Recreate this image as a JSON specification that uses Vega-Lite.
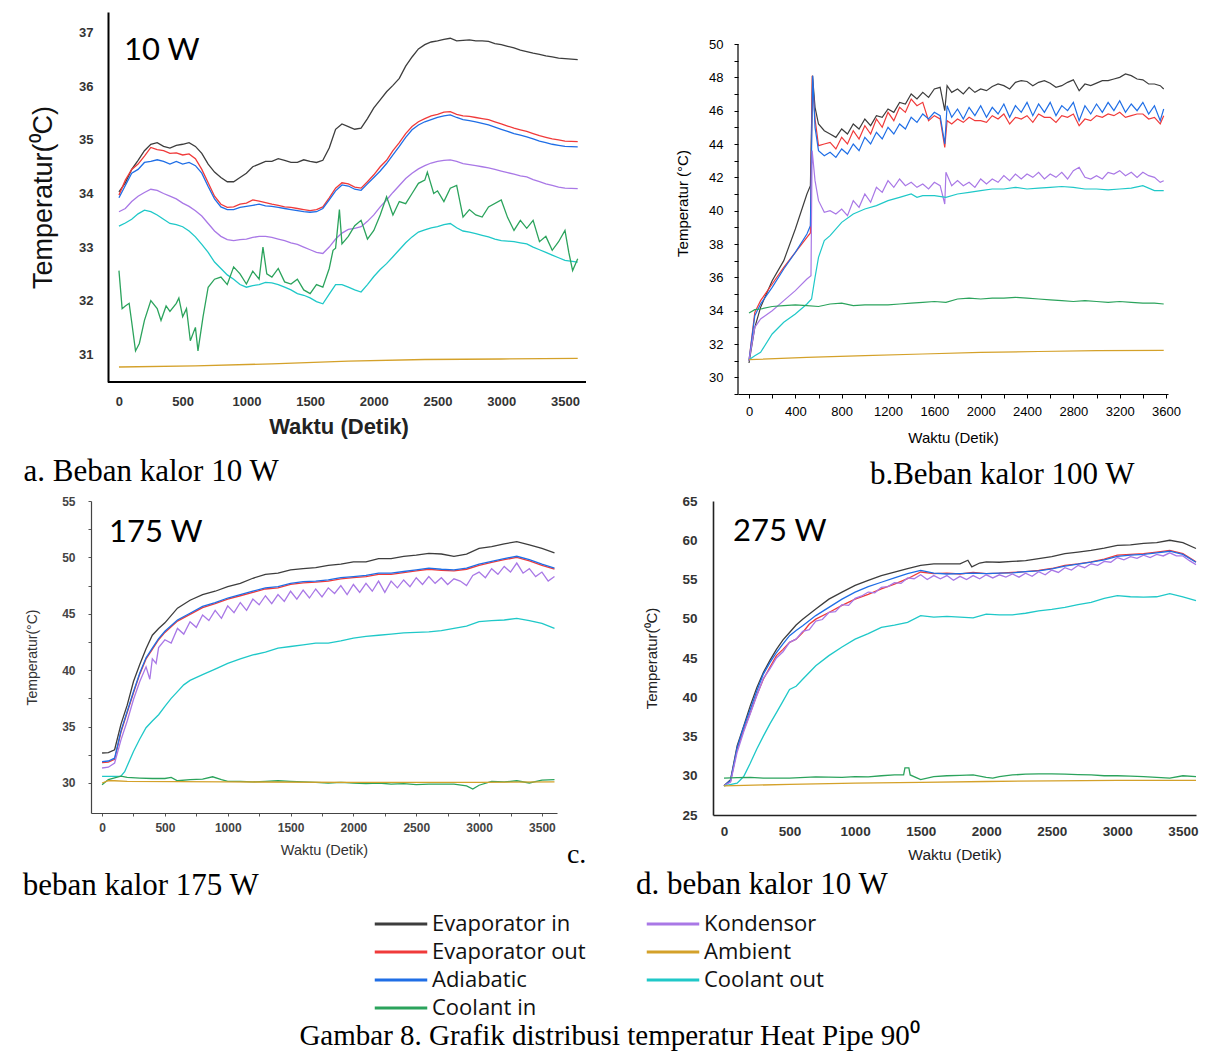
{
"$schema": "https://vega.github.io/schema/vega-lite/v6.json",
"background": "white",
"padding": {"left": 22, "top": 12, "right": 10, "bottom": 0},
"datasets": {
"names": [{"k":"ei","s":"Evaporator in"},{"k":"eo","s":"Evaporator out"},{"k":"ad","s":"Adiabatic"},{"k":"ci","s":"Coolant in"},{"k":"ko","s":"Kondensor"},{"k":"am","s":"Ambient"},{"k":"co","s":"Coolant out"}],
"a": [
{"t":0,"ei":34.03,"eo":33.97,"ad":33.92,"ko":33.66,"co":33.39,"ci":32.56,"am":30.76},
{"t":25,"ci":31.85},{"t":50,"ei":34.2,"eo":34.25,"ad":34.15,"ko":33.72,"co":33.45,"ci":31.9},{"t":80,"ci":31.95},
{"t":100,"ei":34.45,"eo":34.45,"ad":34.38,"ko":33.85,"co":33.52,"ci":31.6},
{"t":130,"ci":31.06},{"t":150,"ei":34.62,"eo":34.55,"ad":34.45,"ko":33.95,"co":33.62},{"t":160,"ci":31.2},
{"t":200,"ei":34.8,"eo":34.7,"ad":34.58,"ko":34.02,"co":33.69,"ci":31.63},
{"t":250,"ei":34.92,"eo":34.86,"ad":34.6,"ko":34.08,"co":33.66,"ci":32.0},
{"t":300,"ei":34.95,"eo":34.82,"ad":34.63,"ko":34.06,"co":33.6,"ci":31.85},
{"t":330,"ci":31.63},{"t":350,"ei":34.88,"eo":34.8,"ad":34.6,"ko":34.0,"co":33.52},{"t":370,"ci":31.9},
{"t":400,"ei":34.85,"eo":34.75,"ad":34.55,"ko":33.95,"co":33.44,"ci":31.8},
{"t":450,"ei":34.9,"eo":34.76,"ad":34.6,"ko":33.9,"co":33.42,"ci":31.95},{"t":470,"ci":32.05},
{"t":500,"ei":34.92,"eo":34.72,"ad":34.55,"ko":33.82,"co":33.38,"ci":31.7},
{"t":530,"ci":31.85},{"t":550,"ei":34.95,"eo":34.74,"ad":34.58,"ko":33.76,"co":33.3},{"t":560,"ci":31.25},
{"t":600,"ei":34.88,"eo":34.65,"ad":34.52,"ko":33.68,"co":33.19,"ci":31.5,"am":30.78},
{"t":620,"ci":31.06},{"t":650,"ei":34.75,"eo":34.45,"ad":34.38,"ko":33.58,"co":33.05},{"t":660,"ci":31.7},
{"t":700,"ei":34.55,"eo":34.2,"ad":34.13,"ko":33.44,"co":32.9,"ci":32.25},
{"t":750,"ei":34.4,"eo":33.95,"ad":33.9,"ko":33.3,"co":32.72,"ci":32.4},
{"t":800,"ei":34.3,"eo":33.8,"ad":33.75,"ko":33.2,"co":32.6,"ci":32.44},
{"t":850,"ei":34.22,"eo":33.74,"ad":33.7,"ko":33.14,"co":32.48,"ci":32.3},
{"t":900,"ei":34.22,"eo":33.75,"ad":33.7,"ko":33.12,"co":32.4,"ci":32.63},
{"t":950,"ei":34.3,"eo":33.8,"ad":33.74,"ko":33.14,"co":32.3,"ci":32.5},
{"t":1000,"ei":34.38,"eo":33.82,"ad":33.76,"ko":33.15,"co":32.25,"ci":32.31},
{"t":1050,"ei":34.5,"eo":33.88,"ad":33.78,"ko":33.18,"co":32.28,"ci":32.55},
{"t":1100,"ei":34.55,"eo":33.86,"ad":33.8,"ko":33.2,"co":32.3,"ci":32.4},
{"t":1130,"ci":33.0},{"t":1150,"ei":34.6,"eo":33.83,"ad":33.77,"ko":33.2,"co":32.34},{"t":1160,"ci":32.5},
{"t":1200,"ei":34.6,"eo":33.8,"ad":33.76,"ko":33.18,"co":32.33,"ci":32.44,"am":30.82},
{"t":1250,"ei":34.65,"eo":33.78,"ad":33.74,"ko":33.15,"co":32.3,"ci":32.6},
{"t":1300,"ei":34.62,"eo":33.75,"ad":33.72,"ko":33.12,"co":32.25,"ci":32.35},
{"t":1350,"ei":34.58,"eo":33.74,"ad":33.7,"ko":33.08,"co":32.2,"ci":32.31},
{"t":1400,"ei":34.58,"eo":33.72,"ad":33.68,"ko":33.05,"co":32.13,"ci":32.4},
{"t":1450,"ei":34.63,"eo":33.7,"ad":33.66,"ko":33.0,"co":32.1,"ci":32.2},
{"t":1500,"ei":34.6,"eo":33.68,"ad":33.65,"ko":32.95,"co":32.05,"ci":32.13},
{"t":1550,"ei":34.58,"eo":33.7,"ad":33.66,"ko":32.9,"co":31.98,"ci":32.3},
{"t":1600,"ei":34.62,"eo":33.75,"ad":33.72,"ko":32.88,"co":31.94,"ci":32.25},
{"t":1650,"ei":34.85,"eo":33.92,"ad":33.88,"ko":33.0,"co":32.12,"ci":32.6},{"t":1680,"ci":32.94},
{"t":1700,"ei":35.2,"eo":34.1,"ad":34.05,"ko":33.15,"co":32.3,"ci":32.98},
{"t":1730,"ci":33.7},
{"t":1750,"ei":35.3,"eo":34.2,"ad":34.16,"ko":33.26,"co":32.3,"ci":33.06},
{"t":1800,"ei":35.25,"eo":34.18,"ad":34.14,"ko":33.33,"co":32.25,"ci":33.2,"am":30.87},
{"t":1850,"ei":35.2,"eo":34.12,"ad":34.08,"ko":33.35,"co":32.2,"ci":33.4},
{"t":1900,"ei":35.22,"eo":34.1,"ad":34.06,"ko":33.38,"co":32.16,"ci":33.5},
{"t":1950,"ei":35.4,"eo":34.22,"ad":34.18,"ko":33.48,"co":32.3,"ci":33.15},
{"t":2000,"ei":35.6,"eo":34.35,"ad":34.3,"ko":33.6,"co":32.45,"ci":33.31},
{"t":2050,"ei":35.75,"eo":34.5,"ad":34.42,"ko":33.75,"co":32.58,"ci":33.6},
{"t":2100,"ei":35.9,"eo":34.62,"ad":34.56,"ko":33.88,"co":32.69,"ci":33.94},
{"t":2150,"ei":36.02,"eo":34.8,"ad":34.72,"ko":34.02,"co":32.82,"ci":33.6},
{"t":2200,"ei":36.15,"eo":34.95,"ad":34.88,"ko":34.15,"co":32.95,"ci":33.85},
{"t":2250,"ei":36.38,"eo":35.12,"ad":35.05,"ko":34.28,"co":33.08,"ci":33.81},
{"t":2300,"ei":36.55,"eo":35.25,"ad":35.19,"ko":34.38,"co":33.19,"ci":34.0},
{"t":2350,"ei":36.7,"eo":35.34,"ad":35.28,"ko":34.46,"co":33.28,"ci":34.19},
{"t":2400,"ei":36.78,"eo":35.4,"ad":35.34,"ko":34.52,"co":33.32,"ci":34.25,"am":30.9},
{"t":2420,"ci":34.4},{"t":2450,"ei":36.83,"eo":35.45,"ad":35.38,"ko":34.57,"co":33.36},{"t":2470,"ci":34.0},
{"t":2500,"ei":36.85,"eo":35.48,"ad":35.42,"ko":34.6,"co":33.38,"ci":34.05},
{"t":2550,"ei":36.88,"eo":35.52,"ad":35.45,"ko":34.62,"co":33.42,"ci":33.85},
{"t":2600,"ei":36.9,"eo":35.53,"ad":35.47,"ko":34.63,"co":33.44,"ci":34.1},
{"t":2650,"ei":36.85,"eo":35.48,"ad":35.42,"ko":34.6,"co":33.36,"ci":34.15},
{"t":2700,"ei":36.86,"eo":35.45,"ad":35.38,"ko":34.56,"co":33.3,"ci":33.56},
{"t":2750,"ei":36.87,"eo":35.44,"ad":35.36,"ko":34.54,"co":33.28,"ci":33.7},
{"t":2800,"ei":36.85,"eo":35.42,"ad":35.34,"ko":34.52,"co":33.25,"ci":33.6},
{"t":2850,"ei":36.85,"eo":35.4,"ad":35.31,"ko":34.5,"co":33.22,"ci":33.56},
{"t":2900,"ei":36.84,"eo":35.38,"ad":35.28,"ko":34.48,"co":33.19,"ci":33.75},
{"t":2950,"ei":36.8,"eo":35.34,"ad":35.24,"ko":34.45,"co":33.15},
{"t":3000,"ei":36.78,"eo":35.3,"ad":35.2,"ko":34.42,"co":33.12,"ci":33.88,"am":30.91},
{"t":3050,"ei":36.75,"eo":35.26,"ad":35.16,"ko":34.39,"co":33.11,"ci":33.55},
{"t":3100,"ei":36.72,"eo":35.22,"ad":35.12,"ko":34.36,"co":33.1,"ci":33.31},
{"t":3150,"ei":36.68,"eo":35.19,"ad":35.09,"ko":34.33,"co":33.08,"ci":33.5},
{"t":3200,"ei":36.65,"eo":35.16,"ad":35.06,"ko":34.31,"co":33.06,"ci":33.35},
{"t":3250,"ei":36.62,"eo":35.12,"ad":35.02,"ko":34.26,"co":33.0,"ci":33.5},
{"t":3300,"ei":36.6,"eo":35.08,"ad":34.98,"ko":34.22,"co":32.95,"ci":33.1},
{"t":3350,"ei":36.57,"eo":35.05,"ad":34.95,"ko":34.18,"co":32.9,"ci":33.2},
{"t":3400,"ei":36.55,"eo":35.02,"ad":34.92,"ko":34.15,"co":32.85,"ci":32.94},
{"t":3450,"ei":36.53,"eo":35.0,"ad":34.9,"ko":34.12,"co":32.8,"ci":33.1},
{"t":3500,"ei":36.52,"eo":34.98,"ad":34.88,"ko":34.1,"co":32.75,"ci":33.31},
{"t":3530,"ci":32.9},{"t":3560,"ci":32.56},
{"t":3600,"ei":36.5,"eo":34.97,"ad":34.87,"ko":34.09,"co":32.72,"ci":32.78,"am":30.92}
],
"b": [
{"t":0,"ei":30.86,"eo":31.0,"ad":31.0,"ko":31.0,"co":31.06,"ci":33.86,"am":31.06},
{"t":50,"ei":33.0,"eo":33.9,"ad":33.7,"ko":33.0,"co":31.3,"ci":34.06},
{"t":100,"ei":34.2,"eo":34.6,"ad":34.4,"ko":33.5,"co":31.5,"ci":34.1},
{"t":200,"ei":35.8,"eo":35.6,"ad":35.4,"ko":34.0,"co":32.6,"ci":34.25},
{"t":300,"ei":37.0,"eo":36.6,"ad":36.5,"ko":34.6,"co":33.3,"ci":34.3},
{"t":400,"ei":38.9,"eo":37.5,"ad":37.5,"ko":35.2,"co":33.8,"ci":34.35},
{"t":500,"ei":41.0,"eo":38.4,"ad":38.6,"ko":35.9,"co":34.4,"ci":34.3,"am":31.2},
{"t":530,"ei":41.5,"eo":38.66,"ad":39.1},
{"t":535,"ko":36.1},{"t":540,"co":34.7},{"t":545,"ko":43.6},{"t":546,"eo":48.1},{"t":548,"ei":48.1},{"t":550,"ad":48.1},
{"t":570,"ei":46.2,"eo":45.5,"ad":45.0,"ko":41.8,"co":36.0},
{"t":600,"ei":45.2,"eo":43.9,"ad":43.6,"ko":40.6,"co":37.2,"ci":34.25},
{"t":650,"ei":44.8,"eo":44.0,"ad":43.3,"ko":39.9,"co":38.2},
{"t":700,"ei":44.6,"eo":44.1,"ad":43.5,"ko":40.0,"co":38.5,"ci":34.4},
{"t":750,"ei":44.4,"eo":43.7,"ad":43.2,"ko":39.8},
{"t":800,"ei":44.9,"eo":44.4,"ad":43.7,"ko":40.1,"co":39.3,"ci":34.45},
{"t":850,"ei":44.6,"eo":44.0,"ad":43.4,"ko":39.7},
{"t":900,"ei":45.2,"eo":44.8,"ad":44.0,"ko":40.6,"co":39.8,"ci":34.3},
{"t":950,"ei":44.9,"eo":44.3,"ad":43.6,"ko":40.2},
{"t":1000,"ei":45.5,"eo":45.1,"ad":44.4,"ko":41.0,"co":40.1,"ci":34.35,"am":31.3},
{"t":1050,"ei":45.1,"eo":44.6,"ad":44.0,"ko":40.5},
{"t":1100,"ei":45.7,"eo":45.5,"ad":44.7,"ko":41.4,"co":40.3,"ci":34.35},
{"t":1150,"ei":45.6,"eo":45.0,"ad":44.3,"ko":41.1},
{"t":1200,"ei":46.1,"eo":45.9,"ad":45.0,"ko":41.8,"co":40.6,"ci":34.35},
{"t":1250,"ei":45.9,"eo":45.4,"ad":44.6,"ko":41.4},
{"t":1300,"ei":46.5,"eo":46.2,"ad":45.2,"ko":41.9,"co":40.8,"ci":34.4},
{"t":1350,"ei":46.4,"eo":45.9,"ad":44.9,"ko":41.5},
{"t":1400,"ei":47.0,"eo":46.7,"ad":45.6,"ko":41.7,"co":41.0,"ci":34.45},
{"t":1450,"ei":46.7,"eo":46.3,"ad":45.3,"ko":41.4,"co":40.8},
{"t":1500,"ei":47.1,"eo":46.5,"ad":45.8,"ko":41.6,"co":40.9,"ci":34.5,"am":31.4},
{"t":1550,"ei":46.8,"eo":45.4,"ad":45.5,"ko":41.3},
{"t":1600,"ei":47.3,"eo":45.7,"ad":45.9,"ko":41.7,"co":40.9,"ci":34.55},
{"t":1650,"ei":47.4,"eo":45.5,"ad":45.7,"ko":41.5},
{"t":1690,"ei":46.0,"eo":43.8,"ad":44.0,"ko":40.4},
{"t":1700,"ko":42.3,"co":40.8,"ci":34.5},
{"t":1710,"ei":47.5,"eo":45.4,"ad":46.3},
{"t":1750,"ei":47.1,"eo":45.2,"ad":45.6,"ko":41.5},
{"t":1800,"ei":47.3,"eo":45.5,"ad":46.1,"ko":41.8,"co":41.0,"ci":34.7},
{"t":1850,"ei":47.0,"eo":45.3,"ad":45.5,"ko":41.5},
{"t":1900,"ei":47.4,"eo":45.6,"ad":46.2,"ko":41.7,"co":41.1,"ci":34.75},
{"t":1950,"ei":47.1,"eo":45.4,"ad":45.7,"ko":41.4},
{"t":2000,"ei":47.3,"eo":45.4,"ad":46.3,"ko":41.9,"co":41.2,"ci":34.7,"am":31.5},
{"t":2050,"ei":47.2,"eo":45.3,"ad":45.6,"ko":41.6},
{"t":2100,"ei":47.45,"eo":45.7,"ad":46.2,"ko":41.9,"co":41.3,"ci":34.75},
{"t":2150,"ei":47.6,"eo":45.5,"ad":45.8,"ko":41.7},
{"t":2200,"ei":47.5,"eo":45.8,"ad":46.4,"ko":42.1,"co":41.3,"ci":34.75},
{"t":2250,"ei":47.3,"eo":45.2,"ad":45.6,"ko":41.8},
{"t":2300,"ei":47.7,"eo":45.6,"ad":46.3,"ko":42.2,"co":41.4,"ci":34.8},
{"t":2350,"ei":47.8,"eo":45.5,"ad":45.9,"ko":41.9},
{"t":2400,"ei":47.75,"eo":45.7,"ad":46.5,"ko":42.2,"co":41.3,"ci":34.75},
{"t":2450,"ei":47.5,"eo":45.3,"ad":45.7,"ko":42.0},
{"t":2500,"ei":47.7,"eo":45.8,"ad":46.4,"ko":42.3,"co":41.35,"ci":34.7,"am":31.55},
{"t":2550,"ei":47.8,"eo":45.6,"ad":45.9,"ko":41.9},
{"t":2600,"ei":47.65,"eo":45.6,"ad":46.5,"ko":42.2,"co":41.4,"ci":34.65},
{"t":2650,"ei":47.4,"eo":45.3,"ad":45.7,"ko":42.0},
{"t":2700,"ei":47.5,"eo":45.7,"ad":46.3,"ko":42.3,"co":41.45,"ci":34.6},
{"t":2750,"ei":47.7,"eo":45.6,"ad":46.0,"ko":41.9},
{"t":2800,"ei":47.85,"eo":45.8,"ad":46.5,"ko":42.4,"co":41.4,"ci":34.55},
{"t":2850,"ei":47.2,"eo":45.1,"ad":45.4,"ko":42.6},
{"t":2900,"ei":47.6,"eo":45.5,"ad":46.3,"ko":42.0,"co":41.3,"ci":34.6},
{"t":2950,"ei":47.5,"eo":45.4,"ad":45.8,"ko":41.9},
{"t":3000,"ei":47.65,"eo":45.7,"ad":46.4,"ko":42.1,"co":41.3,"ci":34.55,"am":31.6},
{"t":3050,"ei":47.8,"eo":45.6,"ad":45.9,"ko":41.9},
{"t":3100,"ei":47.8,"eo":45.8,"ad":46.5,"ko":42.3,"co":41.25,"ci":34.5},
{"t":3150,"ei":47.9,"eo":45.7,"ad":46.0,"ko":42.2},
{"t":3200,"ei":48.0,"eo":45.9,"ad":46.6,"ko":42.4,"co":41.3,"ci":34.55},
{"t":3250,"ei":48.2,"eo":45.6,"ad":45.9,"ko":42.1},
{"t":3300,"ei":48.1,"eo":45.7,"ad":46.4,"ko":42.3,"co":41.35,"ci":34.5},
{"t":3350,"ei":47.9,"eo":45.8,"ad":46.0,"ko":42.0},
{"t":3400,"ei":47.85,"eo":45.8,"ad":46.5,"ko":42.3,"co":41.5,"ci":34.45},
{"t":3450,"ei":47.6,"eo":45.5,"ad":45.8,"ko":42.1},
{"t":3500,"ei":47.6,"eo":45.6,"ad":46.3,"ko":42.0,"co":41.2,"ci":34.45},
{"t":3550,"ei":47.5,"eo":45.2,"ad":45.4,"ko":41.7},
{"t":3580,"ei":47.3,"eo":45.7,"ad":46.1,"ko":41.8,"co":41.2,"ci":34.4,"am":31.62}
],
"c": [
{"t":0,"ei":32.66,"eo":31.8,"ad":31.9,"ko":31.33,"co":30.59,"ci":29.85,"am":30.0},
{"t":50,"ei":32.7,"eo":31.85,"ad":31.95,"ko":31.4,"ci":30.3,"am":30.2},
{"t":100,"ei":32.95,"eo":32.1,"ad":32.2,"ko":31.77,"co":30.59,"ci":30.45,"am":30.2},
{"t":150,"ei":35.2,"eo":34.5,"ad":34.6,"ko":33.8,"co":30.6,"ci":30.6},
{"t":180,"co":31.0},
{"t":200,"ei":36.9,"eo":36.25,"ad":36.35,"ko":35.5,"ci":30.5,"am":30.15},
{"t":250,"ei":39.0,"eo":38.0,"ad":38.1,"ko":37.4,"co":32.8},
{"t":300,"ei":40.5,"eo":39.65,"ad":39.75,"ko":39.0,"co":33.9,"ci":30.44},
{"t":350,"ei":41.9,"eo":41.0,"ad":41.1,"ko":40.3,"co":34.9},
{"t":380,"ko":39.2},
{"t":400,"ei":43.1,"eo":41.85,"ad":41.95,"ko":41.0,"co":35.5,"ci":30.4},
{"t":430,"ko":40.6},
{"t":450,"ei":43.7,"eo":42.7,"ad":42.8,"ko":42.0,"co":36.05},
{"t":500,"ei":44.2,"eo":43.35,"ad":43.45,"ko":42.7,"co":36.8,"ci":30.4},
{"t":550,"ko":42.4,"co":37.5,"ci":30.5},
{"t":600,"ei":45.5,"eo":44.35,"ad":44.45,"ko":43.7,"co":38.1,"ci":30.2},
{"t":650,"ko":43.2,"co":38.7},
{"t":700,"ei":46.2,"eo":44.95,"ad":45.05,"ko":44.3,"co":39.1,"ci":30.3},
{"t":750,"ko":43.8},
{"t":800,"ei":46.7,"eo":45.55,"ad":45.65,"ko":44.9,"co":39.6,"ci":30.35},
{"t":850,"ko":44.4},
{"t":880,"ci":30.55},
{"t":900,"ei":47.0,"eo":45.9,"ad":46.0,"ko":45.3,"co":40.1},
{"t":950,"ko":44.6,"ci":30.3},
{"t":1000,"ei":47.4,"eo":46.3,"ad":46.4,"ko":45.7,"co":40.6,"ci":30.15,"am":30.1},
{"t":1050,"ko":45.1},
{"t":1100,"ei":47.7,"eo":46.6,"ad":46.7,"ko":46.0,"co":41.0,"ci":30.15},
{"t":1150,"ko":45.3},
{"t":1200,"ei":48.15,"eo":46.9,"ad":47.0,"ko":46.3,"co":41.35,"ci":30.1},
{"t":1250,"ko":45.8},
{"t":1300,"ei":48.5,"eo":47.2,"ad":47.3,"ko":46.6,"co":41.6,"ci":30.15},
{"t":1350,"ko":45.9},
{"t":1400,"ei":48.6,"eo":47.3,"ad":47.4,"ko":46.7,"co":41.95,"ci":30.2},
{"t":1450,"ko":46.1},
{"t":1500,"ei":48.9,"eo":47.6,"ad":47.7,"ko":47.0,"co":42.1,"ci":30.15},
{"t":1550,"ko":46.3},
{"t":1600,"ei":49.0,"eo":47.75,"ad":47.85,"ko":47.1,"co":42.25,"ci":30.1},
{"t":1650,"ko":46.4},
{"t":1700,"ei":49.1,"eo":47.8,"ad":47.9,"ko":47.2,"co":42.4,"ci":30.05},
{"t":1750,"ko":46.5},
{"t":1800,"ei":49.3,"eo":47.9,"ad":48.0,"ko":47.3,"co":42.4,"ci":30.0},
{"t":1850,"ko":46.8},
{"t":1900,"ei":49.4,"eo":48.1,"ad":48.2,"ko":47.5,"co":42.6,"ci":30.05},
{"t":1950,"ko":46.7},
{"t":2000,"ei":49.6,"eo":48.2,"ad":48.3,"ko":47.6,"co":42.85,"ci":30.0,"am":30.05},
{"t":2050,"ko":46.9},
{"t":2100,"ei":49.6,"eo":48.3,"ad":48.4,"ko":47.7,"co":43.0,"ci":29.95},
{"t":2150,"ko":47.0},
{"t":2200,"ei":49.9,"eo":48.5,"ad":48.6,"ko":47.9,"co":43.1,"ci":30.0},
{"t":2250,"ko":46.9},
{"t":2300,"ei":49.9,"eo":48.5,"ad":48.6,"ko":47.9,"co":43.2,"ci":29.9},
{"t":2350,"ko":47.3},
{"t":2400,"ei":50.1,"eo":48.65,"ad":48.75,"ko":48.0,"co":43.3,"ci":29.95},
{"t":2450,"ko":47.4},
{"t":2500,"ei":50.2,"eo":48.8,"ad":48.9,"ko":48.2,"co":43.35,"ci":29.85},
{"t":2550,"ko":47.6},
{"t":2600,"ei":50.35,"eo":48.95,"ad":49.05,"ko":48.3,"co":43.4,"ci":29.9},
{"t":2650,"ko":47.7},
{"t":2700,"ei":50.3,"eo":48.85,"ad":48.95,"ko":48.2,"co":43.5,"ci":29.9},
{"t":2750,"ko":47.6},
{"t":2800,"ei":50.1,"eo":48.8,"ad":48.9,"ko":48.1,"co":43.7,"ci":29.9},
{"t":2850,"ko":47.9},
{"t":2900,"ei":50.3,"eo":48.95,"ad":49.05,"ko":47.5,"co":43.9,"ci":29.75},
{"t":2950,"ko":48.4,"ci":29.47},
{"t":3000,"ei":50.8,"eo":49.3,"ad":49.4,"ko":48.7,"co":44.3,"ci":29.8,"am":30.05},
{"t":3050,"ko":48.2},
{"t":3100,"ei":50.95,"eo":49.55,"ad":49.65,"ko":49.0,"co":44.4,"ci":30.15},
{"t":3150,"ko":48.5},
{"t":3200,"ei":51.2,"eo":49.8,"ad":49.9,"ko":49.2,"co":44.45,"ci":30.1},
{"t":3250,"ko":48.7},
{"t":3300,"ei":51.4,"eo":50.0,"ad":50.1,"ko":49.5,"co":44.6,"ci":30.2},
{"t":3350,"ko":48.6},
{"t":3400,"ei":51.1,"eo":49.7,"ad":49.8,"ko":49.0,"co":44.4,"ci":30.0},
{"t":3450,"ko":48.3},
{"t":3500,"ei":50.8,"eo":49.3,"ad":49.4,"ko":48.7,"co":44.15,"ci":30.25},
{"t":3550,"ko":47.9},
{"t":3600,"ei":50.4,"eo":48.95,"ad":49.05,"ko":48.3,"co":43.7,"ci":30.3,"am":30.1}
],
"d": [
{"t":0,"ei":28.72,"eo":28.72,"ad":28.72,"ko":28.72,"co":28.72,"ci":29.7,"am":28.72},
{"t":50,"ei":29.5,"eo":29.3,"ad":29.4,"ko":29.2},
{"t":100,"ei":33.8,"eo":33.4,"ad":33.55,"ko":33.0,"co":29.05,"ci":29.75},
{"t":150,"ei":36.3,"eo":35.8,"ad":36.2,"ko":35.6,"co":29.9},
{"t":200,"ei":38.9,"eo":38.0,"ad":38.45,"ko":37.9,"co":31.6,"ci":29.8},
{"t":250,"ei":41.2,"eo":40.3,"ad":40.8,"ko":40.2,"co":33.4},
{"t":300,"ei":43.15,"eo":42.3,"ad":42.95,"ko":42.4,"co":35.05,"ci":29.7},
{"t":350,"ei":44.7,"eo":43.8,"ad":44.4,"ko":43.6,"co":36.6},
{"t":400,"ei":46.1,"eo":45.3,"ad":45.7,"ko":45.0,"co":38.05},
{"t":450,"ei":47.3,"eo":46.1,"ad":46.8,"ko":45.8,"co":39.5},
{"t":500,"ei":48.25,"eo":47.0,"ad":47.85,"ko":47.0,"co":41.0,"ci":29.7,"am":28.9},
{"t":550,"ei":49.2,"eo":47.4,"ad":48.5,"ko":47.4,"co":41.4},
{"t":600,"ei":49.95,"eo":48.25,"ad":49.1,"ko":48.4,"co":42.3},
{"t":650,"eo":49.3,"ko":48.6},
{"t":700,"ei":51.25,"eo":49.95,"ad":50.4,"ko":49.7,"co":44.0,"ci":29.85},
{"t":750,"ko":49.9},
{"t":800,"ei":52.5,"eo":50.8,"ad":51.45,"ko":50.8,"co":45.3},
{"t":850,"ko":50.9},
{"t":900,"ei":53.4,"eo":51.7,"ad":52.5,"ko":51.8,"co":46.4,"ci":29.8},
{"t":950,"ko":51.7},
{"t":1000,"ei":54.25,"eo":52.5,"ad":53.4,"ko":52.6,"co":47.4,"ci":29.9,"am":29.05},
{"t":1050,"ko":52.9},
{"t":1100,"ei":54.9,"eo":53.1,"ad":54.1,"ko":53.4,"co":48.1,"ci":29.85},
{"t":1150,"ko":53.3},
{"t":1200,"ei":55.5,"eo":53.8,"ad":54.65,"ko":54.0,"co":48.9,"ci":30.0},
{"t":1250,"ko":54.1},
{"t":1300,"ei":55.95,"eo":54.4,"ad":55.2,"ko":54.6,"co":49.2,"ci":30.1},
{"t":1350,"ko":54.5},
{"t":1370,"ci":30.1},{"t":1380,"ci":31.0},
{"t":1400,"ei":56.4,"eo":55.1,"ad":55.75,"ko":55.2,"co":49.55},
{"t":1410,"ci":31.0},{"t":1420,"ci":30.1},
{"t":1450,"ko":55.1},
{"t":1500,"ei":56.8,"eo":55.95,"ad":56.15,"ko":55.6,"co":50.4,"ci":29.5,"am":29.15},
{"t":1550,"ko":55.0},
{"t":1600,"ei":57.0,"eo":55.75,"ad":55.8,"ko":55.5,"co":50.2,"ci":29.9},
{"t":1650,"ko":55.1},
{"t":1700,"ei":57.0,"eo":55.8,"ad":55.7,"ko":55.5,"co":50.3,"ci":30.0},
{"t":1750,"ko":54.9},
{"t":1800,"ei":57.0,"eo":55.7,"ad":55.75,"ko":55.4,"co":50.2,"ci":30.05},
{"t":1850,"ko":55.0},
{"t":1860,"ei":57.45},{"t":1890,"ei":56.6},
{"t":1900,"eo":55.9,"ad":55.8,"ko":55.5,"co":50.1,"ci":30.1},
{"t":1950,"ei":57.1,"ko":55.1},
{"t":2000,"ei":57.25,"eo":55.75,"ad":55.75,"ko":55.6,"co":50.6,"ci":29.8,"am":29.27},
{"t":2050,"ko":55.2,"ci":29.7},
{"t":2100,"ei":57.2,"eo":55.8,"ad":55.8,"ko":55.6,"co":50.5,"ci":29.9},
{"t":2150,"ko":55.3},
{"t":2200,"ei":57.3,"eo":55.9,"ad":55.85,"ko":55.7,"co":50.5,"ci":30.1},
{"t":2250,"ko":55.3},
{"t":2300,"ei":57.4,"eo":56.0,"ad":56.0,"ko":55.8,"co":50.7,"ci":30.2},
{"t":2350,"ko":55.4},
{"t":2400,"ei":57.65,"eo":56.15,"ad":56.1,"ko":56.0,"co":51.0,"ci":30.25},
{"t":2450,"ko":55.6},
{"t":2500,"ei":57.9,"eo":56.4,"ad":56.35,"ko":56.2,"co":51.2,"ci":30.25,"am":29.35},
{"t":2550,"ko":55.9},
{"t":2600,"ei":58.3,"eo":56.8,"ad":56.7,"ko":56.5,"co":51.45,"ci":30.2},
{"t":2650,"ko":56.2},
{"t":2700,"ei":58.5,"eo":57.0,"ad":56.95,"ko":56.8,"co":51.8,"ci":30.15},
{"t":2750,"ko":56.5},
{"t":2800,"ei":58.7,"eo":57.25,"ad":57.2,"ko":57.0,"co":52.1,"ci":30.1},
{"t":2850,"ko":56.8},
{"t":2900,"ei":59.0,"eo":57.6,"ad":57.5,"ko":57.3,"co":52.6,"ci":30.0},
{"t":2950,"ko":57.2},
{"t":3000,"ei":59.35,"eo":58.1,"ad":57.95,"ko":57.8,"co":52.95,"ci":30.0,"am":29.4},
{"t":3050,"ko":57.5},
{"t":3100,"ei":59.4,"eo":58.2,"ad":58.1,"ko":57.9,"co":52.8,"ci":29.95},
{"t":3150,"ko":57.7},
{"t":3200,"ei":59.6,"eo":58.3,"ad":58.2,"ko":58.1,"co":52.75,"ci":29.9},
{"t":3250,"ko":57.8},
{"t":3300,"ei":59.7,"eo":58.5,"ad":58.4,"ko":58.2,"co":52.8,"ci":29.8},
{"t":3350,"ko":58.0},
{"t":3400,"ei":60.0,"eo":58.7,"ad":58.6,"ko":58.4,"co":53.2,"ci":29.7},
{"t":3450,"ko":58.0},
{"t":3500,"ei":59.7,"eo":58.3,"ad":58.2,"ko":58.0,"co":52.8,"ci":30.0},
{"t":3550,"ko":57.4},
{"t":3600,"ei":58.95,"eo":57.25,"ad":57.2,"ko":56.9,"co":52.3,"ci":29.9,"am":29.4}
]
},
"concat": [
{"concat": [
 {"width": 495, "height": 370,
  "title": {"text": "a. Beban kalor 10 W", "orient": "bottom", "anchor": "start", "font": "Liberation Serif", "fontSize": 31, "fontWeight": "normal", "color": "#000", "offset": 20, "dx": -6},
  "layer": [
   {"data": {"name": "a"},
    "transform": [{"fold": ["ei","eo","ad","ko","co","ci","am"], "as": ["k","v"]}, {"filter": "isValid(datum.v)"}, {"lookup": "k", "from": {"data": {"name": "names"}, "key": "k", "fields": ["s"]}}],
    "mark": {"type": "line", "strokeWidth": 1.3},
    "encoding": {
     "x": {"field": "t", "type": "quantitative", "title": "Waktu (Detik)", "scale": {"domain": [-219.4, 3665], "nice": false, "zero": false},
      "axis": {"values": [0,500,1000,1500,2000,2500,3000,3500], "tickCount": 100, "format": "d", "domain": false, "ticks": false, "tickSize": 0, "labelFont": "Liberation Sans", "labelFontSize": 13, "labelFontWeight": "bold", "labelColor": "#333", "labelPadding": 13, "titleFont": "Liberation Sans", "titleFontSize": 22, "titleFontWeight": "bold", "titleColor": "#222", "titlePadding": 8}},
     "y": {"field": "v", "type": "quantitative", "title": "Temperatur(⁰C)", "scale": {"domain": [30.48, 37.39], "nice": false, "zero": false},
      "axis": {"values": [31,32,33,34,35,36,37], "tickCount": 100, "format": "d", "offset": -17, "ticks": false, "tickSize": 0, "domainColor": "#000", "domainWidth": 2, "labelFont": "Liberation Sans", "labelFontSize": 13, "labelFontWeight": "bold", "labelColor": "#333", "labelPadding": 15, "titleFont": "Liberation Sans", "titleFontSize": 27, "titleFontWeight": "normal", "titleColor": "#111", "titlePadding": 21}},
     "color": {"field": "s", "type": "nominal", "scale": {"domain": ["Evaporator in","Evaporator out","Adiabatic","Coolant in","Kondensor","Ambient","Coolant out"], "range": ["#3d3d3d","#f03a3a","#1f6ee6","#2ba35c","#a978e6","#d4a12a","#1fc8c8"]},
      "legend": {"orient": "none", "legendX": 298, "legendY": 900, "columns": 2, "title": null, "symbolType": "M-2.5,0H2.5", "symbolSize": 441, "symbolStrokeWidth": 3, "labelFont": "Open Sans", "labelFontSize": 22, "labelColor": "#111", "labelLimit": 400, "labelOffset": 19, "rowPadding": 5, "columnPadding": 54}}
    }},
   {"data": {"values": [{"t": -86, "t2": 3665, "v": 30.48}]},
    "mark": {"type": "rule", "color": "#000", "strokeWidth": 2},
    "encoding": {"x": {"field": "t", "type": "quantitative", "title": "Waktu (Detik)"}, "x2": {"field": "t2"}, "y": {"field": "v", "type": "quantitative", "title": "Temperatur(⁰C)"}}},
   {"data": {"values": [{"t": 39, "v": 36.5, "txt": "10 W"}]},
    "mark": {"type": "text", "font": "Lato", "fontSize": 31, "align": "left", "baseline": "alphabetic", "color": "#000"},
    "encoding": {"x": {"field": "t", "type": "quantitative", "title": "Waktu (Detik)"}, "y": {"field": "v", "type": "quantitative", "title": "Temperatur(⁰C)"}, "text": {"field": "txt", "type": "nominal"}}}
  ]},
 {"width": 430, "height": 382,
  "title": {"text": "b.Beban kalor 100 W", "orient": "bottom", "anchor": "end", "font": "Liberation Serif", "fontSize": 31, "fontWeight": "normal", "color": "#000", "offset": 15, "dx": -46},
  "layer": [
   {"data": {"name": "b"},
    "transform": [{"fold": ["ei","eo","ad","ko","co","ci","am"], "as": ["k","v"]}, {"filter": "isValid(datum.v)"}, {"lookup": "k", "from": {"data": {"name": "names"}, "key": "k", "fields": ["s"]}}],
    "mark": {"type": "line", "strokeWidth": 1.2},
    "encoding": {
     "x": {"field": "t", "type": "quantitative", "title": "Waktu (Detik)", "scale": {"domain": [-95, 3617], "nice": false, "zero": false},
      "axis": {"values": [0,200,400,600,800,1000,1200,1400,1600,1800,2000,2200,2400,2600,2800,3000,3200,3400,3600], "tickCount": 100, "format": "d", "labelExpr": "datum.value % 400 === 0 ? datum.label : ''", "tickSize": 4, "tickColor": "#000", "domainColor": "#000", "domainWidth": 1.2, "labelFont": "Liberation Sans", "labelFontSize": 13, "labelColor": "#000", "labelPadding": 7, "titleFont": "Liberation Sans", "titleFontSize": 15, "titleFontWeight": "normal", "titleColor": "#000", "titlePadding": 12}},
     "y": {"field": "v", "type": "quantitative", "title": "Temperatur (°C)", "scale": {"domain": [29, 51.92], "nice": false, "zero": false},
      "axis": {"values": [29,30,31,32,33,34,35,36,37,38,39,40,41,42,43,44,45,46,47,48,49,50], "tickCount": 100, "format": "d", "labelExpr": "datum.value % 2 === 0 ? datum.label : ''", "labelOverlap": false, "domain": false, "tickSize": 4, "tickColor": "#000", "labelFont": "Liberation Sans", "labelFontSize": 13, "labelColor": "#000", "labelPadding": 11, "titleFont": "Liberation Sans", "titleFontSize": 15, "titleFontWeight": "normal", "titleColor": "#000", "titlePadding": 18}},
     "color": {"field": "s", "type": "nominal"}
    }},
   {"data": {"values": [{"t": -95, "v": 29, "v2": 50}]},
    "mark": {"type": "rule", "color": "#000", "strokeWidth": 1.2},
    "encoding": {"x": {"field": "t", "type": "quantitative", "title": "Waktu (Detik)"}, "y": {"field": "v", "type": "quantitative", "title": "Temperatur (°C)"}, "y2": {"field": "v2"}}}
  ]}
 ], "columns": 2, "align": "none", "spacing": 88},
{"concat": [
 {"width": 466, "height": 312,
  "title": {"text": "beban kalor 175 W", "orient": "bottom", "anchor": "start", "font": "Liberation Serif", "fontSize": 31, "fontWeight": "normal", "color": "#000", "offset": 2, "dx": -3},
  "layer": [
   {"data": {"name": "c"},
    "transform": [{"fold": ["ei","eo","ad","ko","co","ci","am"], "as": ["k","v"]}, {"filter": "isValid(datum.v)"}, {"lookup": "k", "from": {"data": {"name": "names"}, "key": "k", "fields": ["s"]}}],
    "mark": {"type": "line", "strokeWidth": 1.3},
    "encoding": {
     "x": {"field": "t", "type": "quantitative", "title": "Waktu (Detik)", "scale": {"domain": [-88, 3620], "nice": false, "zero": false},
      "axis": {"values": [0,250,500,750,1000,1250,1500,1750,2000,2250,2500,2750,3000,3250,3500], "tickCount": 100, "format": "d", "labelExpr": "datum.value % 500 === 0 ? datum.label : ''", "tickSize": 3, "tickColor": "#555", "domainColor": "#444", "domainWidth": 1.2, "labelFont": "Liberation Sans", "labelFontSize": 12, "labelFontWeight": "bold", "labelColor": "#444", "labelPadding": 6, "titleFont": "Liberation Sans", "titleFontSize": 14.5, "titleFontWeight": "normal", "titleColor": "#333", "titlePadding": 10}},
     "y": {"field": "v", "type": "quantitative", "title": "Temperatur(°C)", "scale": {"domain": [27.34, 55], "nice": false, "zero": false},
      "axis": {"values": [30,32.5,35,37.5,40,42.5,45,47.5,50,52.5,55], "tickCount": 100, "format": "d", "labelExpr": "datum.value % 5 === 0 ? datum.label : ''", "tickSize": 3, "tickColor": "#555", "domainColor": "#444", "domainWidth": 1.2, "labelFont": "Liberation Sans", "labelFontSize": 12, "labelFontWeight": "bold", "labelColor": "#444", "labelPadding": 13, "titleFont": "Liberation Sans", "titleFontSize": 14, "titleFontWeight": "normal", "titleColor": "#333", "titlePadding": 22}},
     "color": {"field": "s", "type": "nominal"}
    }},
   {"data": {"values": [{"t": 56, "v": 51.4, "txt": "175 W"}]},
    "mark": {"type": "text", "font": "Lato", "fontSize": 31, "align": "left", "baseline": "alphabetic", "color": "#000"},
    "encoding": {"x": {"field": "t", "type": "quantitative", "title": "Waktu (Detik)"}, "y": {"field": "v", "type": "quantitative", "title": "Temperatur(°C)"}, "text": {"field": "txt", "type": "nominal"}}},
   {"data": {"values": [{"t": 3699, "v": 22.9, "txt": "c."}]},
    "mark": {"type": "text", "font": "Liberation Serif", "fontSize": 28, "align": "left", "baseline": "alphabetic", "color": "#000"},
    "encoding": {"x": {"field": "t", "type": "quantitative", "title": "Waktu (Detik)"}, "y": {"field": "v", "type": "quantitative", "title": "Temperatur(°C)"}, "text": {"field": "txt", "type": "nominal"}}}
  ]},
 {"width": 483, "height": 314,
  "title": {"text": "d. beban kalor 10 W", "orient": "bottom", "anchor": "start", "font": "Liberation Serif", "fontSize": 31, "fontWeight": "normal", "color": "#000", "offset": 7, "dx": -9},
  "layer": [
   {"data": {"name": "d"},
    "transform": [{"fold": ["ei","eo","ad","ko","co","ci","am"], "as": ["k","v"]}, {"filter": "isValid(datum.v)"}, {"lookup": "k", "from": {"data": {"name": "names"}, "key": "k", "fields": ["s"]}}],
    "mark": {"type": "line", "strokeWidth": 1.3},
    "encoding": {
     "x": {"field": "t", "type": "quantitative", "title": "Waktu (Detik)", "scale": {"domain": [-84, 3600], "nice": false, "zero": false},
      "axis": {"values": [0,500,1000,1500,2000,2500,3000,3500], "tickCount": 100, "format": "d", "ticks": false, "tickSize": 0, "domainColor": "#222", "domainWidth": 1.6, "labelFont": "Liberation Sans", "labelFontSize": 13.5, "labelFontWeight": "bold", "labelColor": "#333", "labelPadding": 9, "titleFont": "Liberation Sans", "titleFontSize": 15.5, "titleFontWeight": "normal", "titleColor": "#222", "titlePadding": 10}},
     "y": {"field": "v", "type": "quantitative", "title": "Temperatur(⁰C)", "scale": {"domain": [25, 65], "nice": false, "zero": false},
      "axis": {"values": [25,30,35,40,45,50,55,60,65], "tickCount": 100, "format": "d", "ticks": false, "tickSize": 0, "domainColor": "#222", "domainWidth": 1.6, "labelFont": "Liberation Sans", "labelFontSize": 13.5, "labelFontWeight": "bold", "labelColor": "#333", "labelPadding": 16, "titleFont": "Liberation Sans", "titleFontSize": 15, "titleFontWeight": "normal", "titleColor": "#222", "titlePadding": 22}},
     "color": {"field": "s", "type": "nominal"}
    }},
   {"data": {"values": [{"t": 69, "v": 59.9, "txt": "275 W"}]},
    "mark": {"type": "text", "font": "Lato", "fontSize": 31, "align": "left", "baseline": "alphabetic", "color": "#000"},
    "encoding": {"x": {"field": "t", "type": "quantitative", "title": "Waktu (Detik)"}, "y": {"field": "v", "type": "quantitative", "title": "Temperatur(⁰C)"}, "text": {"field": "txt", "type": "nominal"}}}
  ]}
 ], "columns": 2, "align": "none", "spacing": 48}
],
"columns": 1,
"align": "none",
"spacing": 4,
"title": {"text": "Gambar 8. Grafik  distribusi temperatur Heat Pipe 90⁰", "orient": "bottom", "anchor": "middle", "font": "Liberation Serif", "fontSize": 29, "fontWeight": "normal", "color": "#000", "offset": 3, "dx": -1},
"config": {
 "font": "Liberation Sans",
 "view": {"stroke": null},
 "axis": {"grid": false, "labelFlush": false, "labelOverlap": false}
}
}
